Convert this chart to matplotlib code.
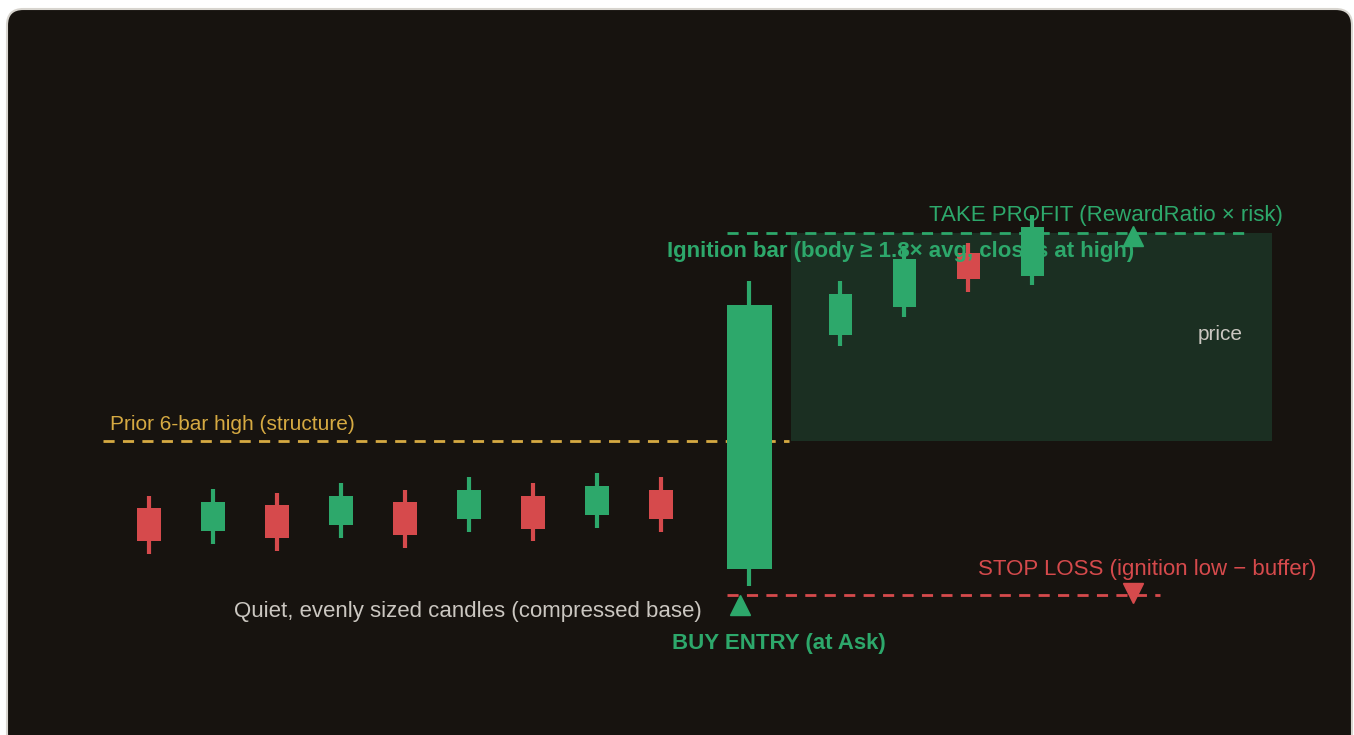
import matplotlib.pyplot as plt
from matplotlib.patches import FancyBboxPatch, Rectangle

plt.rcParams['font.family'] = ['Liberation Sans', 'DejaVu Sans']

# candle data: x position (bar index), open, high, low, close
bar_x = [0, 1, 2, 3, 4, 5, 6, 7, 8, 9.38, 10.8, 11.8, 12.8, 13.8]
opens = [109.2, 106.9, 109.5, 107.5, 109.8, 108.1, 110.4, 108.5, 111.0, 103.1, 126.5, 129.3, 134.7, 132.4]
highs = [110.4, 111.1, 110.7, 111.7, 111.0, 112.3, 111.7, 112.7, 112.3, 131.9, 131.9, 135.4, 135.7, 138.5]
lows = [104.6, 105.6, 104.9, 106.2, 105.2, 106.8, 105.9, 107.2, 106.8, 101.4, 125.4, 128.3, 130.8, 131.5]
closes = [105.9, 109.8, 106.2, 110.4, 106.5, 111.0, 107.1, 111.4, 108.1, 129.5, 130.6, 134.1, 132.1, 137.3]
body_w = [0.36] * 9 + [0.70] + [0.36] * 4

prior_high = 115.9
take_profit = 136.7
stop_loss = 100.5
entry_x = 9.23
marker_x = 15.38

green = '#2da86b'
red = '#d64a4c'
gold = '#d6aa42'
bg = '#17130f'
grey = '#cbc7c1'

fig = plt.figure(figsize=(13.54, 7.35), dpi=100)
fig.patch.set_facecolor('white')
panel = FancyBboxPatch((7 / 1354, -0.02), 1345 / 1354, 1 - 9 / 735 + 0.02,
                       boxstyle='round,pad=0,rounding_size=0.012',
                       transform=fig.transFigure, facecolor=bg,
                       edgecolor='#d8d5cf', linewidth=1.5, mutation_aspect=1354 / 735,
                       zorder=-5)
fig.patches.append(panel)

ax = fig.add_axes([0, 0, 1, 1])
ax.set_facecolor('none')
ax.set_xlim(-149 / 64, (1354 - 149) / 64)
ax.set_ylim(86.5, 160)
ax.axis('off')

# target zone
ax.add_patch(Rectangle((10.03, prior_high), 7.52, take_profit - prior_high,
                       facecolor='#1b2f22', edgecolor='none', zorder=1))

for x, o, h, l, c, w in zip(bar_x, opens, highs, lows, closes, body_w):
    col = green if c >= o else red
    ax.plot([x, x], [l, h], color=col, linewidth=3, solid_capstyle='butt', zorder=3)
    ax.add_patch(Rectangle((x - w / 2, min(o, c)), w, abs(c - o),
                           facecolor=col, edgecolor='none', zorder=4))

ax.plot([-0.72, 10.0], [prior_high, prior_high], color=gold, linewidth=2,
        dashes=(4, 3), zorder=2)
ax.plot([9.03, 17.2], [take_profit, take_profit], color=green, linewidth=2,
        dashes=(4, 3), zorder=2)
ax.plot([9.03, 15.8], [stop_loss, stop_loss], color=red, linewidth=2,
        dashes=(4, 3), zorder=2)

ax.plot(marker_x, take_profit - 0.3, marker='^', color=green, markersize=15, zorder=5)
ax.plot(marker_x, stop_loss + 0.2, marker='v', color=red, markersize=15, zorder=5)
ax.plot(entry_x, 99.5, marker='^', color=green, markersize=15, zorder=5)

ax.text((1106 - 149) / 64, 138.5, 'TAKE PROFIT (RewardRatio \u00d7 risk)', color=green,
        fontsize=16, ha='center', va='center', zorder=6)
ax.text((667 - 149) / 64, 134.8, 'Ignition bar (body \u2265 1.8\u00d7 avg, closes at high)', color=green,
        fontsize=16, fontweight='bold', ha='left', va='center', zorder=6)
ax.text((1220 - 149) / 64, 126.6, 'price', color=grey, fontsize=15, ha='center', va='center', zorder=6)
ax.text((110 - 149) / 64, 117.6, 'Prior 6-bar high (structure)', color=gold,
        fontsize=15, ha='left', va='center', zorder=6)
ax.text((702 - 149) / 64, 98.8, 'Quiet, evenly sized candles (compressed base)', color=grey,
        fontsize=16, ha='right', va='center', zorder=6)
ax.text((779 - 149) / 64, 95.6, 'BUY ENTRY (at Ask)', color=green,
        fontsize=16, fontweight='bold', ha='center', va='center', zorder=6)
ax.text((1147 - 149) / 64, 103.0, 'STOP LOSS (ignition low \u2212 buffer)', color=red,
        fontsize=16, ha='center', va='center', zorder=6)

fig.savefig('out.png', dpi=100, facecolor='white')
